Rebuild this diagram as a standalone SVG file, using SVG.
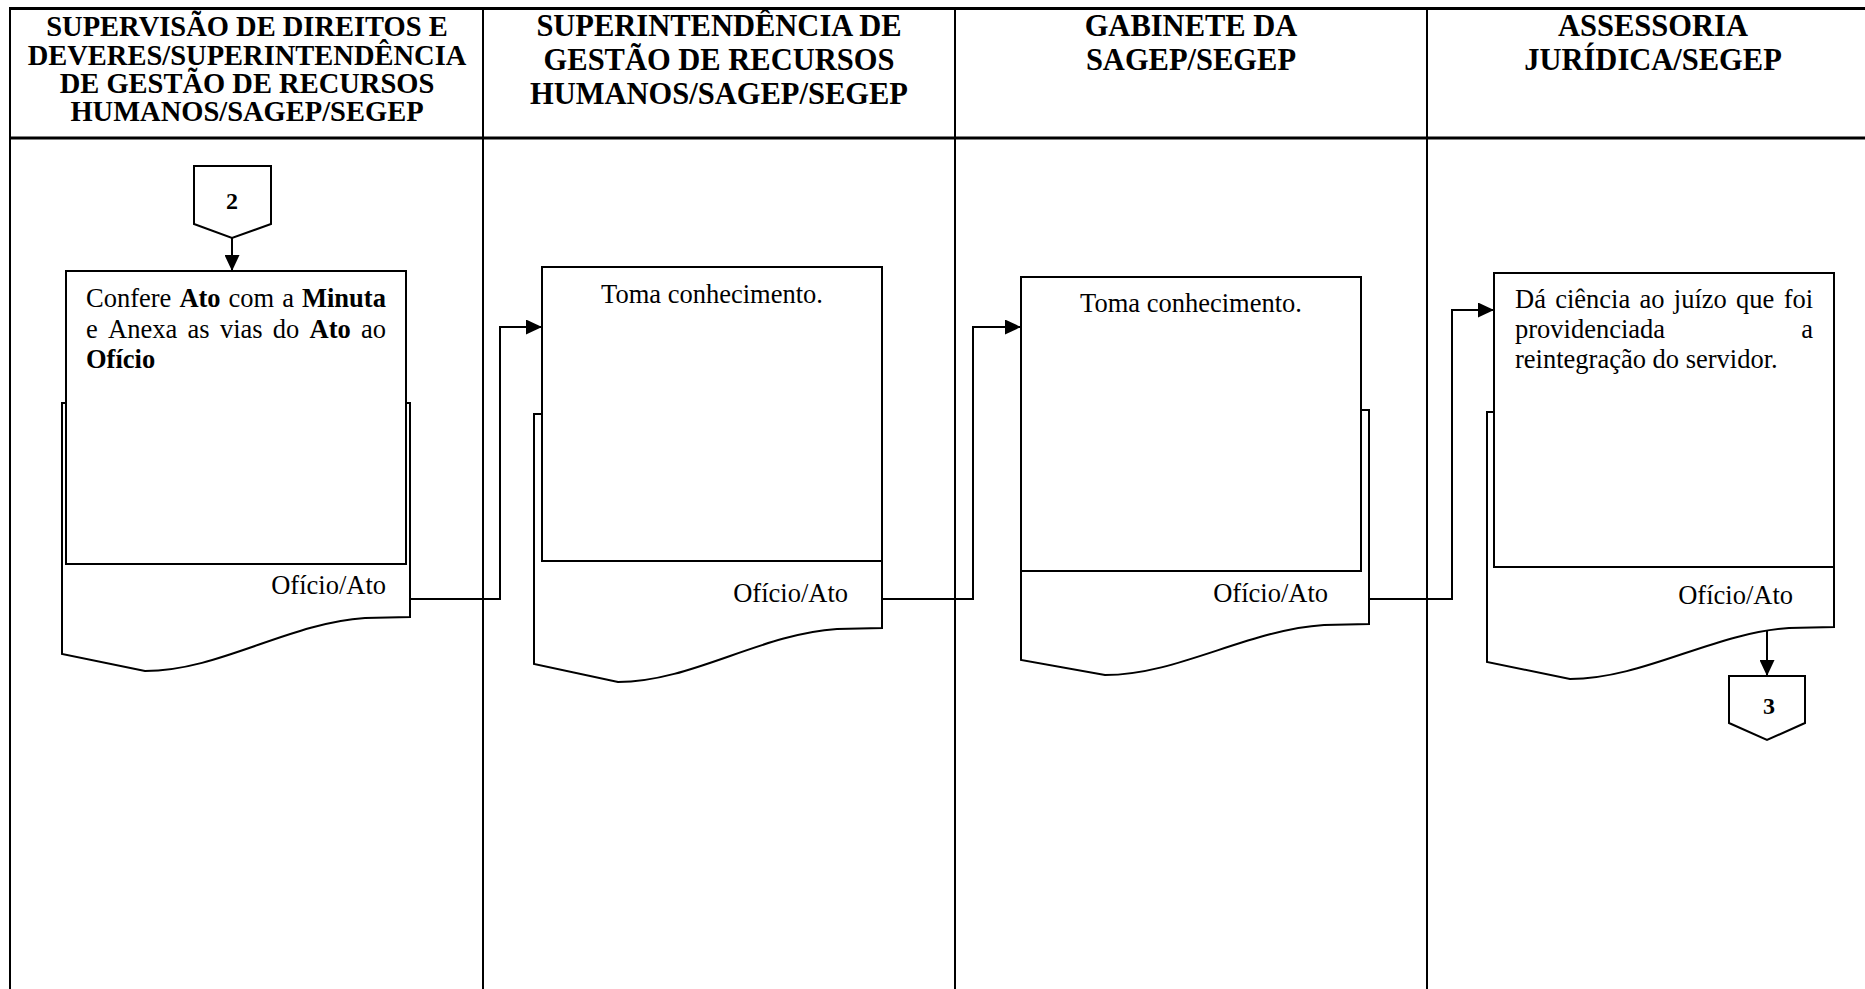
<svg xmlns="http://www.w3.org/2000/svg" width="1865" height="989" viewBox="0 0 1865 989">
  <style>
    .frame { fill: none; stroke: #000; }
    .box { fill: #fff; stroke: #000; stroke-width: 2; }
    .doc { fill: #fff; stroke: #000; stroke-width: 2; stroke-linejoin: miter; }
    .conn { fill: none; stroke: #000; stroke-width: 2; }
    .head { font-family: "Liberation Serif", "Times New Roman", serif; font-weight: bold; font-size: 28.5px; text-anchor: middle; fill: #000; }
    .head-l { font-size: 30.5px; }
    .txt { font-family: "Liberation Serif", "Times New Roman", serif; font-size: 26.5px; fill: #000; }
    .b { font-weight: bold; }
    .num { font-family: "Liberation Serif", "Times New Roman", serif; font-weight: bold; font-size: 24px; text-anchor: middle; fill: #000; }
    .end { text-anchor: end; }
    .mid { text-anchor: middle; }
  </style>
  <defs>
    <marker id="arrow" markerUnits="userSpaceOnUse" markerWidth="16" markerHeight="15" refX="16" refY="7.5" orient="auto">
      <path d="M0,0 L16,7.5 L0,15 Z" fill="#000"/>
    </marker>
  </defs>

  <rect width="1865" height="989" fill="#fff"/>

  <!-- swimlane table -->
  <g id="lanes">
    <line class="frame" x1="10" y1="8.5" x2="1865" y2="8.5" stroke-width="3"/>
    <line class="frame" x1="10" y1="138" x2="1865" y2="138" stroke-width="3"/>
    <line class="frame" x1="10" y1="7" x2="10" y2="989" stroke-width="2"/>
    <line class="frame" x1="483" y1="7" x2="483" y2="989" stroke-width="2"/>
    <line class="frame" x1="955" y1="7" x2="955" y2="989" stroke-width="2"/>
    <line class="frame" x1="1427" y1="7" x2="1427" y2="989" stroke-width="2"/>
  </g>

  <g id="lane-headers">
    <text class="head" x="247" y="36">SUPERVISÃO DE DIREITOS E</text>
    <text class="head" x="247" y="64.5">DEVERES/SUPERINTENDÊNCIA</text>
    <text class="head" x="247" y="93">DE GESTÃO DE RECURSOS</text>
    <text class="head" x="247" y="121">HUMANOS/SAGEP/SEGEP</text>

    <text class="head head-l" x="719" y="36">SUPERINTENDÊNCIA DE</text>
    <text class="head head-l" x="719" y="70">GESTÃO DE RECURSOS</text>
    <text class="head head-l" x="719" y="104">HUMANOS/SAGEP/SEGEP</text>

    <text class="head head-l" x="1191" y="36">GABINETE DA</text>
    <text class="head head-l" x="1191" y="70">SAGEP/SEGEP</text>

    <text class="head head-l" x="1653" y="36">ASSESSORIA</text>
    <text class="head head-l" x="1653" y="70">JURÍDICA/SEGEP</text>
  </g>

  <!-- connectors -->
  <g id="connectors">
    <path class="conn" d="M232,238 V271" marker-end="url(#arrow)"/>
    <path class="conn" d="M410,599 H500 V327 H542" marker-end="url(#arrow)"/>
    <path class="conn" d="M882,599 H973 V327 H1021" marker-end="url(#arrow)"/>
    <path class="conn" d="M1369,599 H1452 V310 H1494" marker-end="url(#arrow)"/>
    <path class="conn" d="M1767,630 V676" marker-end="url(#arrow)"/>
  </g>

  <!-- off-page connector 2 -->
  <g id="offpage-2">
    <path class="box" d="M194,166 H271 V224 L232,238 L194,224 Z"/>
    <text class="num" x="232" y="209">2</text>
  </g>

  <!-- step 1 -->
  <g id="step-1">
    <path class="doc" d="M62,403 H410 V617 L365,618 C288,623 219,671 145,671 L62,654 Z"/>
    <rect class="box" x="66" y="271" width="340" height="293"/>
    <text class="txt" y="307">
      <tspan x="86">Confere</tspan><tspan x="179.4" class="b">Ato</tspan><tspan x="228.6">com</tspan><tspan x="282.2">a</tspan><tspan x="302" class="b">Minuta</tspan>
    </text>
    <text class="txt" y="338">
      <tspan x="86">e</tspan><tspan x="108">Anexa</tspan><tspan x="187.5">as</tspan><tspan x="219.9">vias</tspan><tspan x="272.8">do</tspan><tspan x="309.5" class="b">Ato</tspan><tspan x="361">ao</tspan>
    </text>
    <text class="txt b" x="86" y="368">Ofício</text>
    <text class="txt end" x="386" y="594">Ofício/Ato</text>
  </g>

  <!-- step 2 -->
  <g id="step-2">
    <path class="doc" d="M534,414 H882 V628 L837,629 C760,634 691,682 618,682 L534,664 Z"/>
    <rect class="box" x="542" y="267" width="340" height="294"/>
    <text class="txt mid" x="712" y="303">Toma conhecimento.</text>
    <text class="txt end" x="848" y="602">Ofício/Ato</text>
  </g>

  <!-- step 3 -->
  <g id="step-3">
    <path class="doc" d="M1021,410 H1369 V624 L1324,625 C1247,630 1178,675 1105,675 L1021,660 Z"/>
    <rect class="box" x="1021" y="277" width="340" height="294"/>
    <text class="txt mid" x="1191" y="312">Toma conhecimento.</text>
    <text class="txt end" x="1328" y="602">Ofício/Ato</text>
  </g>

  <!-- step 4 -->
  <g id="step-4">
    <path class="doc" d="M1487,412 H1834 V627 L1789,628 C1713,633 1643,679 1570,679 L1487,662 Z"/>
    <rect class="box" x="1494" y="273" width="340" height="294"/>
    <text class="txt" y="308">
      <tspan x="1515">Dá</tspan><tspan x="1555.2">ciência</tspan><tspan x="1639.5">ao</tspan><tspan x="1673.8">juízo</tspan><tspan x="1736.1">que</tspan><tspan x="1783.7">foi</tspan>
    </text>
    <text class="txt" x="1515" y="338">providenciada</text>
    <text class="txt end" x="1813" y="338">a</text>
    <text class="txt" x="1515" y="368">reintegração do servidor.</text>
    <text class="txt end" x="1793" y="604">Ofício/Ato</text>
  </g>

  <!-- off-page connector 3 -->
  <g id="offpage-3">
    <path class="box" d="M1729,676 H1805 V723 L1767,740 L1729,723 Z"/>
    <text class="num" x="1769" y="714">3</text>
  </g>
</svg>
